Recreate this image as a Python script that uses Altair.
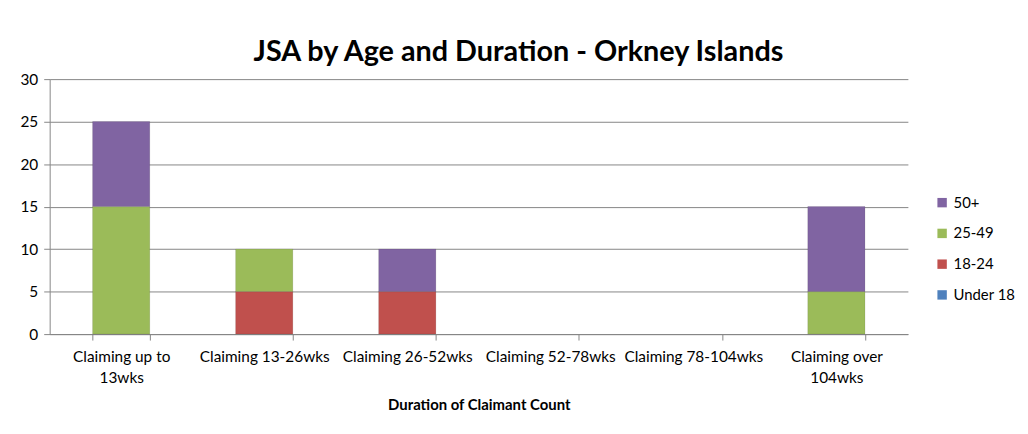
import altair as alt
import pandas as pd

categories = ["Claiming up to|13wks", "Claiming 13-26wks", "Claiming 26-52wks",
              "Claiming 52-78wks", "Claiming 78-104wks", "Claiming over|104wks"]
series = ["Under 18", "18-24", "25-49", "50+"]
under_18 = [0, 0, 0, 0, 0, 0]
age_18_24 = [0, 5, 5, 0, 0, 0]
age_25_49 = [15, 5, 0, 0, 0, 5]
age_50_plus = [10, 0, 5, 0, 0, 10]
colors = ["#4F81BD", "#C0504D", "#9BBB59", "#8064A2"]
y_ticks = [0, 5, 10, 15, 20, 25, 30]

values = {"Under 18": under_18, "18-24": age_18_24, "25-49": age_25_49, "50+": age_50_plus}
rows = []
for si, s in enumerate(series):
    for ci, c in enumerate(categories):
        if values[s][ci] > 0:
            rows.append({"duration": c, "age": s, "count": values[s][ci], "order": si})
df = pd.DataFrame(rows)

FONT = "Lato"

chart = alt.Chart(df).mark_bar(stroke="#000000", strokeOpacity=0.12, strokeWidth=0.8).encode(
    x=alt.X("duration:N", sort=categories,
            scale=alt.Scale(domain=categories, paddingInner=0.6, paddingOuter=0.3),
            axis=alt.Axis(title="Duration of Claimant Count", labelAngle=0,
                          labelExpr="split(datum.label, '|')",
                          tickBand="extent", labelPadding=10, labelLineHeight=21,
                          titlePadding=11)),
    y=alt.Y("count:Q", stack="zero",
            scale=alt.Scale(domain=[0, 30], nice=False),
            axis=alt.Axis(title=None, values=y_ticks, grid=True, labelPadding=6)),
    color=alt.Color("age:N",
                    scale=alt.Scale(domain=series, range=colors),
                    sort=series[::-1],
                    legend=alt.Legend(title=None, orient="none", legendX=892, legendY=117,
                                      values=series[::-1],
                                      symbolType="square", symbolSize=90,
                                      rowPadding=15, labelFontSize=15, labelFont=FONT,
                                      labelOffset=4, symbolStrokeWidth=0)),
    order=alt.Order("order:Q", sort="ascending"),
).properties(
    width=865,
    height=257,
    title=alt.TitleParams("JSA by Age and Duration - Orkney Islands", fontSize=29,
                          font=FONT, fontWeight="bold", color="#000000",
                          anchor="middle", dx=40, offset=5),
    autosize=alt.AutoSizeParams(type="none"),
    padding={"left": 42, "top": 70, "right": 113, "bottom": 99},
).configure_view(
    stroke=None
).configure_axis(
    labelFont=FONT, labelFontSize=15.5, labelColor="#000000",
    titleFont=FONT, titleFontSize=15, titleFontWeight="bold", titleColor="#000000",
    domainColor="#868686", tickColor="#868686", gridColor="#868686",
    tickSize=6, domainWidth=1, gridWidth=1,
)

chart.save("out.html", embed_options={"renderer": "svg", "actions": False})
